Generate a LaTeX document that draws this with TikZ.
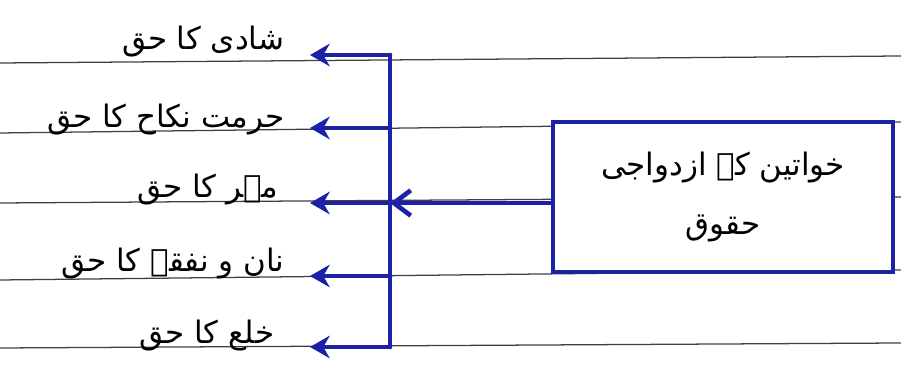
\documentclass[tikz,border=0pt]{standalone}
\usepackage{fontspec}
\newfontfamily\urdufont[Script=Arabic]{DejaVu Sans}
\TeXXeTstate=1
\usetikzlibrary{arrows.meta}
\definecolor{penblue}{RGB}{28,34,168}
\tikzset{
  rulerline/.style={black!75, line width=0.9pt},
  bluepen/.style={penblue, line width=3.3pt, line cap=round, line join=round},
  rightlbl/.style={anchor=east, inner sep=1pt, font=\urdufont\fontsize{22}{26}\selectfont},
}
\begin{document}
\begin{tikzpicture}
\useasboundingbox (0,0) rectangle (22.525,9.25);
\draw[rulerline] (0,7.675) -- (22.525,7.85);
\draw[rulerline] (0,5.925) -- (22.525,6.2);
\draw[rulerline] (0,4.175) -- (22.525,4.325);
\draw[rulerline] (0,2.25) -- (22.525,2.5);
\draw[rulerline] (0,0.55) -- (22.525,0.675);
\node[draw=penblue, line width=3.3pt, fill=white, minimum width=8.5cm, minimum height=3.75cm, align=center, font=\urdufont\fontsize{22}{42}\selectfont] (huqooq) at (18.075,4.325)
  {\beginR خواتین کے ازدواجی\endR\\ \beginR حقوق\endR};
\coordinate (top) at (9.75,7.875);
\coordinate (bottom) at (9.75,0.575);
\coordinate (hub) at (9.75,4.175);
\node[rightlbl] (shadi) at (7.15,8.2) {\beginR شادی کا حق\endR};
\node[rightlbl] (hurmat) at (7.15,6.25) {\beginR حرمت نکاح کا حق\endR};
\node[rightlbl] (mehr) at (7.0,4.5) {\beginR مہر کا حق\endR};
\node[rightlbl] (nafqa) at (7.15,2.65) {\beginR نان و نفقہ کا حق\endR};
\node[rightlbl] (khula) at (6.9,0.85) {\beginR خلع کا حق\endR};
\draw[bluepen] (top) -- (bottom);
\draw[bluepen, -{Stealth[length=14pt, width=16pt]}] (top) -- (7.75,7.875);
\draw[bluepen, -{Stealth[length=14pt, width=16pt]}] (9.75,6.05) -- (7.75,6.05);
\draw[bluepen, -{Stealth[length=14pt, width=16pt]}] (hub) -- (7.75,4.175);
\draw[bluepen, -{Stealth[length=14pt, width=16pt]}] (9.75,2.35) -- (7.75,2.35);
\draw[bluepen, -{Stealth[length=14pt, width=16pt]}] (bottom) -- (7.75,0.575);
\draw[bluepen, -{Straight Barb[length=12pt, width=18pt]}] (huqooq.west |- hub) -- (hub);
\end{tikzpicture}
\end{document}
